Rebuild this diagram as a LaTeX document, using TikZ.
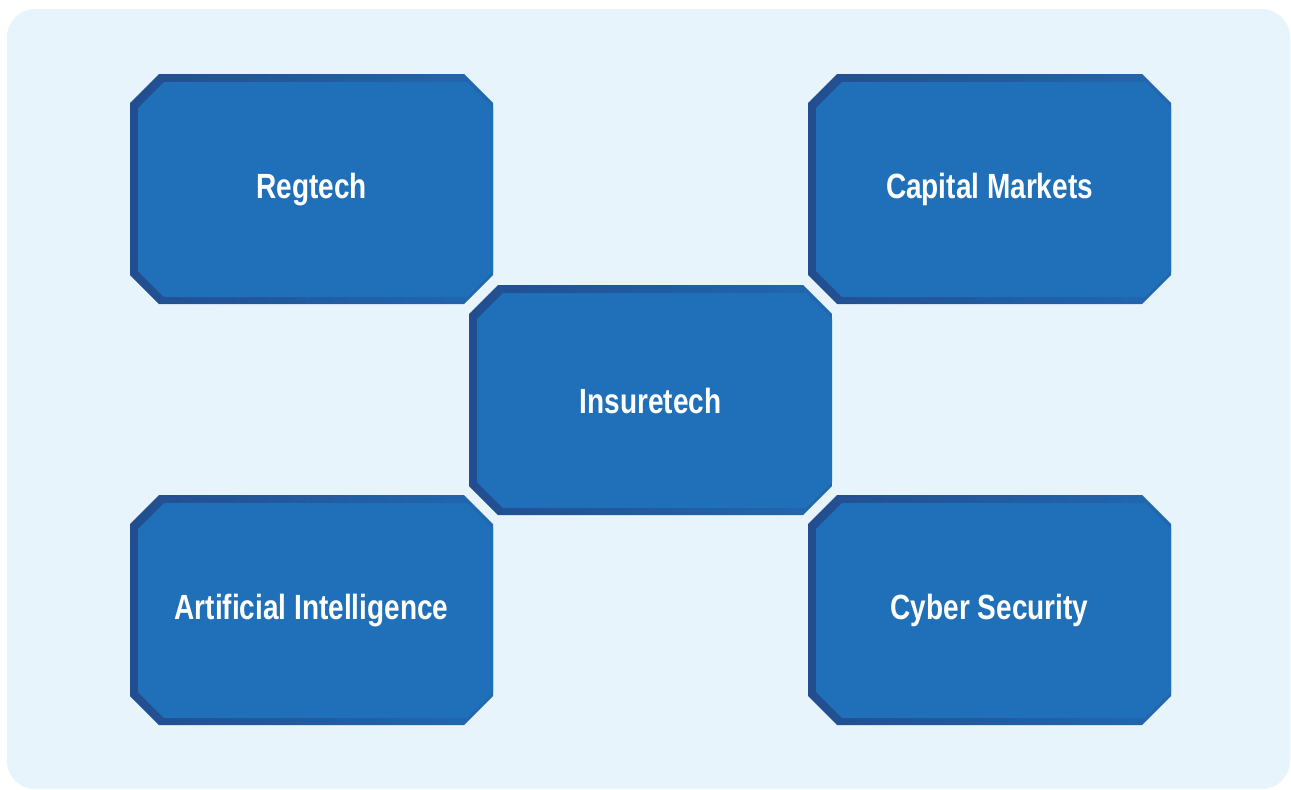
\documentclass[tikz,border=0pt]{standalone}
\usepackage{fontspec}
\newfontfamily\tilefont{Liberation Sans}[FakeStretch=0.8]
\definecolor{panelblue}{RGB}{232,244,252}
\definecolor{tilefill}{RGB}{31,112,184}
\definecolor{tileedge}{RGB}{34,78,143}
\definecolor{tileedgeright}{RGB}{33,104,176}

\tikzset{
  tileouter/.style={left color=tileedge, right color=tileedgeright, draw=none},
  tileinner/.style={fill=tilefill, draw=none},
  tiletext/.style={text=white, font=\tilefont\bfseries\fontsize{35}{40}\selectfont, inner sep=0pt},
}

% chamfered tile: #1 name, #2 left, #3 top, #4 label
\newcommand\chamfertile[4]{%
  \path[tileouter] (#2,#3) ++(0,29) -- ++(29,-29) -- ++(305,0) -- ++(29,29)
    -- ++(0,172) -- ++(-29,29) -- ++(-305,0) -- ++(-29,-29) -- cycle;
  \path[tileinner] (#2,#3) ++(8,34) -- ++(26,-26) -- ++(303,0) -- ++(26,26)
    -- ++(0,163) -- ++(-26,26) -- ++(-303,0) -- ++(-26,-26) -- cycle;
  \node[tiletext] (#1) at (#2+181.5,#3+115.5) {#4};
}

\begin{document}
\begin{tikzpicture}[x=1pt,y=-1pt]
  \useasboundingbox (0,0) rectangle (1291,790);
  \fill[white] (0,0) rectangle (1291,790);
  \fill[panelblue, rounded corners=28pt] (7,9) rectangle (1290,789);

  \chamfertile{regtech}{130}{74}{Regtech}
  \chamfertile{capital}{808}{74}{Capital Markets}
  \chamfertile{ai}{130}{495}{Artificial Intelligence}
  \chamfertile{cyber}{808}{495}{Cyber Security}
  \chamfertile{insure}{469}{285}{Insuretech}
\end{tikzpicture}
\end{document}
